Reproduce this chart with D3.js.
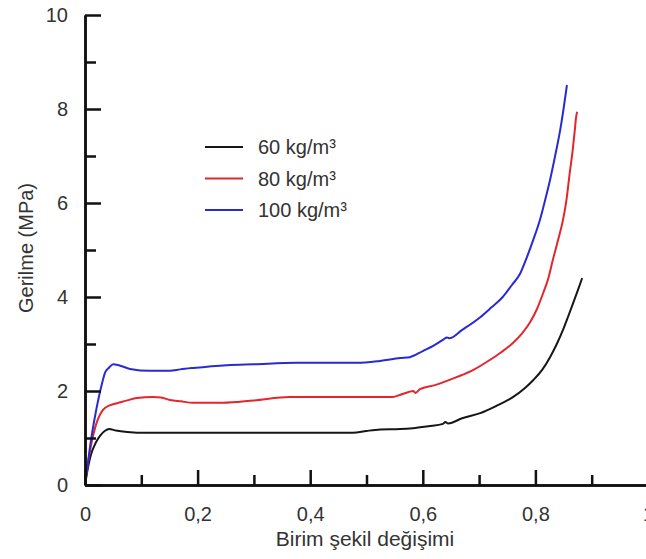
<!DOCTYPE html>
<html>
<head>
<meta charset="utf-8">
<script src="https://cdn.jsdelivr.net/npm/d3@7"></script>
<style>
  body { margin: 0; background: #fff; }
  .chart text { font-family: "Liberation Sans", Arial, sans-serif; fill: #333; }
</style>
</head>
<body>
<div class="chart"></div>
<script>
// Data: [strain, stress (MPa)]
let seriesNames = ["60 kg/m³", "80 kg/m³", "100 kg/m³"];
let seriesColors = ["#161616", "#e3262d", "#2a2ad2"];

let density60 = [
  [0, 0], [0.005, 0.35], [0.01, 0.62], [0.02, 0.92], [0.027, 1.05], [0.035, 1.15],
  [0.043, 1.19], [0.055, 1.16], [0.075, 1.13], [0.11, 1.11], [0.2, 1.11], [0.3, 1.11],
  [0.4, 1.11], [0.476, 1.11], [0.5, 1.15], [0.524, 1.18], [0.56, 1.19], [0.583, 1.21],
  [0.61, 1.25], [0.636, 1.3], [0.64, 1.34], [0.645, 1.31], [0.67, 1.42], [0.702, 1.53],
  [0.73, 1.68], [0.76, 1.87], [0.78, 2.05], [0.796, 2.23], [0.812, 2.45], [0.826, 2.72],
  [0.838, 3.0], [0.849, 3.3], [0.858, 3.58], [0.867, 3.87], [0.875, 4.13], [0.883, 4.4]
];

let density80 = [
  [0, 0], [0.005, 0.45], [0.01, 0.8], [0.02, 1.3], [0.032, 1.6], [0.045, 1.7],
  [0.057, 1.74], [0.075, 1.8], [0.092, 1.85], [0.121, 1.87], [0.135, 1.86], [0.151, 1.81],
  [0.17, 1.78], [0.192, 1.75], [0.245, 1.75], [0.3, 1.8], [0.364, 1.87], [0.45, 1.87],
  [0.547, 1.87], [0.56, 1.92], [0.575, 1.98], [0.583, 2.0], [0.587, 1.96], [0.595, 2.04],
  [0.62, 2.12], [0.661, 2.3], [0.69, 2.45], [0.719, 2.66], [0.74, 2.83], [0.76, 3.02],
  [0.776, 3.22], [0.79, 3.45], [0.803, 3.75], [0.814, 4.09], [0.823, 4.4], [0.831, 4.79],
  [0.84, 5.2], [0.849, 5.64], [0.855, 6.05], [0.861, 6.64], [0.866, 7.1], [0.87, 7.55],
  [0.872, 7.8], [0.874, 7.94]
];

let density100 = [
  [0, 0], [0.005, 0.45], [0.01, 0.9], [0.02, 1.6], [0.03, 2.15], [0.036, 2.4],
  [0.043, 2.5], [0.05, 2.57], [0.06, 2.55], [0.08, 2.47], [0.115, 2.43], [0.151, 2.43],
  [0.169, 2.46], [0.192, 2.49], [0.252, 2.55], [0.3, 2.57], [0.376, 2.6], [0.483, 2.6],
  [0.524, 2.64], [0.56, 2.7], [0.577, 2.72], [0.6, 2.85], [0.62, 2.97], [0.637, 3.1],
  [0.643, 3.14], [0.647, 3.12], [0.67, 3.3], [0.702, 3.57], [0.722, 3.78], [0.742, 4.0],
  [0.758, 4.25], [0.773, 4.5], [0.785, 4.85], [0.796, 5.21], [0.808, 5.64], [0.817, 6.05],
  [0.826, 6.49], [0.835, 7.0], [0.844, 7.55], [0.85, 8.0], [0.856, 8.51]
];

let xMajorTicks = [0, 0.2, 0.4, 0.6, 0.8, 1];
let xMinorTicks = [0.1, 0.3, 0.5, 0.7, 0.9];
let yMajorTicks = [0, 2, 4, 6, 8, 10];
let yMinorTicks = [1, 3, 5, 7, 9];

let allSeries = [density60, density80, density100];

// Set up chart
let svgWidth = 646;
let svgHeight = 559;

let svg = d3.select(".chart")
  .append("svg")
  .attr("width", svgWidth)
  .attr("height", svgHeight);

let xScale = d3.scaleLinear().domain([0, 1]).range([85, 648]);
let yScale = d3.scaleLinear().domain([0, 10]).range([485, 15]);

let fmt = d => d3.format("")(d).replace(".", ",");

// Curves
let line = d3.line()
  .x(d => xScale(d[0]))
  .y(d => yScale(d[1]))
  .curve(d3.curveMonotoneX);

svg.selectAll("path.curve")
  .data(allSeries)
  .enter().append("path")
  .attr("class", "curve")
  .attr("d", line)
  .attr("fill", "none")
  .attr("stroke", (d, i) => seriesColors[i])
  .attr("stroke-width", 2);

// Minor ticks first, then the major ones with labels
svg.append("g")
  .attr("transform", "translate(0,485)")
  .call(d3.axisBottom(xScale).tickValues(xMinorTicks).tickSize(-10).tickSizeOuter(0).tickFormat(""));

let xAxis = svg.append("g")
  .attr("transform", "translate(0,485)")
  .call(d3.axisBottom(xScale).tickValues(xMajorTicks).tickSize(-15).tickSizeOuter(0).tickPadding(22).tickFormat(fmt));

svg.append("g")
  .attr("transform", "translate(85,0)")
  .call(d3.axisLeft(yScale).tickValues(yMinorTicks).tickSize(-11).tickSizeOuter(0).tickFormat(""));

let yAxis = svg.append("g")
  .attr("transform", "translate(85,0)")
  .call(d3.axisLeft(yScale).tickValues(yMajorTicks).tickSize(-16).tickSizeOuter(0).tickPadding(17).tickFormat(fmt));

svg.selectAll(".domain, .tick line")
  .attr("stroke", "#111")
  .attr("stroke-width", 2.5);

svg.selectAll(".tick text")
  .attr("font-size", 20)
  .style("fill", "#333");

// Axis titles
svg.append("text")
  .attr("x", 365)
  .attr("y", 546)
  .attr("text-anchor", "middle")
  .attr("font-size", 21)
  .text("Birim şekil değişimi");

svg.append("text")
  .attr("transform", "translate(33,248) rotate(-90)")
  .attr("text-anchor", "middle")
  .attr("font-size", 20)
  .text("Gerilme (MPa)");

// Legend
let legend = svg.selectAll("g.legend")
  .data(seriesNames)
  .enter().append("g")
  .attr("class", "legend")
  .attr("transform", (d, i) => `translate(205, ${147 + i * 31.5})`);

legend.append("line")
  .attr("x1", 0)
  .attr("x2", 38)
  .attr("stroke", (d, i) => seriesColors[i])
  .attr("stroke-width", 2);

legend.append("text")
  .attr("x", 53)
  .attr("dy", "0.35em")
  .attr("font-size", 20)
  .text(d => d);
</script>
</body>
</html>
